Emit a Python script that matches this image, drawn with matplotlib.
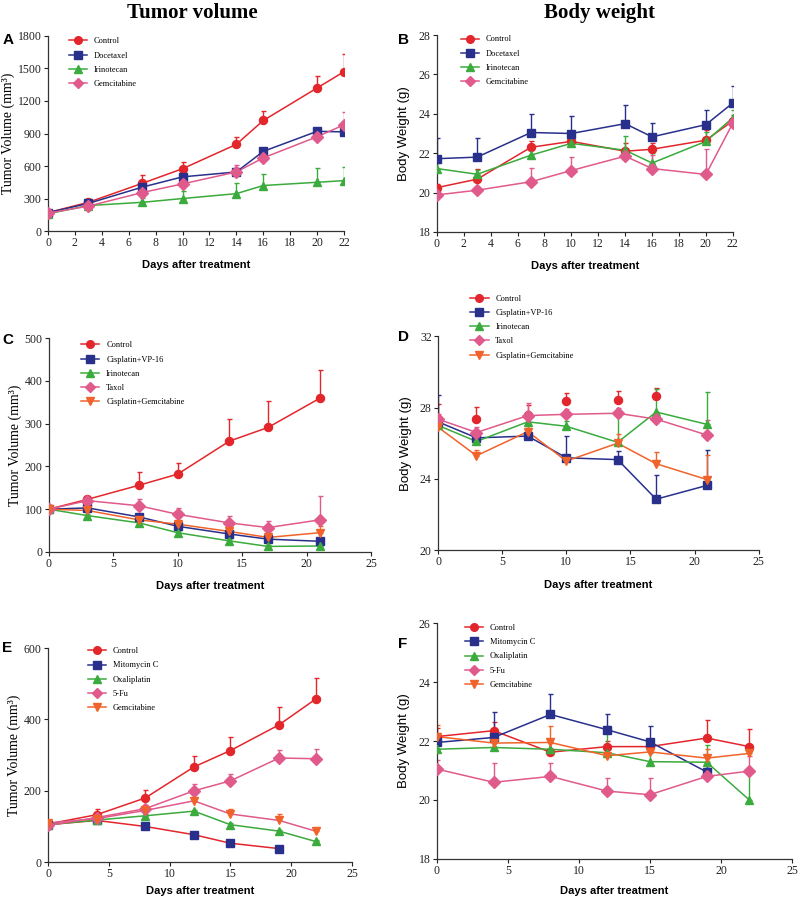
import matplotlib
matplotlib.use("Agg")
import matplotlib.pyplot as plt
from matplotlib.lines import Line2D

plt.rcParams['font.family'] = ['Liberation Serif', 'DejaVu Serif']

RED = '#e3262b'
NAVY = '#28308c'
GREEN = '#3aab3c'
PINK = '#e05a8b'
ORANGE = '#f0632a'

# ---------------- Panel A : tumor volume ----------------
days_a = [0, 3, 7, 10, 14, 16, 20, 22]
a_control = [170, 265, 440, 575, 800, 1020, 1320, 1470]
a_control_err = [15, 20, 75, 65, 70, 85, 110, 165]
a_docetaxel = [170, 255, 405, 500, 545, 735, 920, 915]
a_docetaxel_err = [10, 20, 30, 20, 30, 20, 30, 0]
a_irinotecan = [160, 235, 265, 300, 345, 420, 450, 465]
a_irinotecan_err = [10, 65, 40, 70, 95, 110, 130, 125]
a_gemcitabine = [165, 230, 355, 435, 545, 675, 870, 980]
a_gemcitabine_err = [10, 15, 40, 35, 60, 30, 30, 115]

# ---------------- Panel B : body weight ----------------
days_b = [0, 3, 7, 10, 14, 16, 20, 22]
b_control = [20.25, 20.68, 22.3, 22.6, 22.1, 22.2, 22.66, 23.64]
b_control_err = [0.2, 0.5, 0.3, 0.3, 0.4, 0.3, 0.5, 0.3]
b_docetaxel = [21.72, 21.8, 23.05, 23.0, 23.5, 22.83, 23.45, 24.55]
b_docetaxel_err = [1.05, 0.95, 0.95, 0.88, 0.95, 0.7, 0.75, 0.85]
b_irinotecan = [21.22, 20.93, 21.9, 22.5, 22.15, 21.5, 22.6, 23.8]
b_irinotecan_err = [0.3, 0.2, 0.3, 0.3, 0.7, 0.5, 0.5, 0.4]
b_gemcitabine = [19.88, 20.12, 20.55, 21.12, 21.85, 21.22, 20.92, 23.52]
b_gemcitabine_err = [0.1, 0.5, 0.7, 0.7, 0.1, 0.7, 1.3, 0.3]

# ---------------- Panel C : tumor volume ----------------
days_c = [0, 3, 7, 10, 14, 17, 21]
c_control = [100, 123, 156, 182, 259, 291, 359]
c_control_err = [0, 5, 30, 27, 51, 61, 67]
c_cis_vp16 = [100, 103, 82, 60, 42, 30, 25]
c_cis_vp16_err = [0, 5, 5, 5, 5, 5, 5]
c_irinotecan = [100, 85, 68, 45, 26, 13, 14]
c_irinotecan_err = [0, 4, 4, 4, 4, 3, 3]
c_taxol = [100, 120, 108, 88, 68, 57, 75]
c_taxol_err = [0, 5, 15, 15, 15, 15, 55]
c_cis_gem = [100, 97, 75, 65, 48, 34, 45]
c_cis_gem_err = [0, 4, 6, 5, 6, 5, 15]

# ---------------- Panel D : body weight ----------------
days_d = [0, 3, 7, 10, 14, 17, 21]
d_control = [27.3, 27.35, 27.57, 28.39, 28.4, 28.67]
d_control_err = [0.9, 0.7, 0.6, 0.45, 0.55, 0.4]
d_cis_vp16 = [27.2, 26.3, 26.4, 25.18, 25.08, 22.86, 23.64]
d_cis_vp16_err = [1.5, 0.3, 0.3, 1.2, 0.5, 1.35, 2.0]
d_irinotecan = [27.0, 26.1, 27.2, 26.95, 26.05, 27.75, 27.05]
d_irinotecan_err = [0.5, 0.3, 0.4, 0.3, 1.4, 1.3, 1.8]
d_taxol = [27.35, 26.6, 27.55, 27.62, 27.68, 27.35, 26.45]
d_taxol_err = [0.3, 0.3, 0.7, 0.3, 0.3, 0.3, 0.85]
d_cis_gem = [26.9, 25.3, 26.65, 25.0, 26.0, 24.85, 23.95]
d_cis_gem_err = [0.3, 0.3, 0.3, 0.3, 0.5, 0.65, 1.4]

# ---------------- Panel E : tumor volume ----------------
days_e = [0, 4, 8, 12, 15, 19, 22]
e_control = [107, 133, 180, 267, 313, 385, 457]
e_control_err = [5, 15, 22, 30, 38, 50, 58]
e_mitomycin = [105, 117, 100, 77, 53, 38]
e_mitomycin_err = [3, 3, 3, 3, 3, 3]
e_oxaliplatin = [105, 118, 130, 143, 105, 87, 58]
e_oxaliplatin_err = [3, 4, 4, 4, 4, 4, 4]
e_5fu = [103, 125, 150, 200, 228, 292, 290]
e_5fu_err = [3, 5, 10, 20, 20, 22, 28]
e_gemcitabine = [110, 122, 145, 172, 135, 117, 87]
e_gemcitabine_err = [4, 5, 6, 6, 15, 18, 5]

# ---------------- Panel F : body weight ----------------
days_f = [0, 4, 8, 12, 15, 19, 22]
f_control = [22.15, 22.35, 21.62, 21.81, 21.81, 22.1, 21.81]
f_control_err = [0.3, 0.3, 0.3, 0.2, 0.2, 0.6, 0.6]
f_mitomycin = [21.95, 22.12, 22.9, 22.38, 21.97, 20.95]
f_mitomycin_err = [0.3, 0.85, 0.7, 0.55, 0.55, 0.2]
f_oxaliplatin = [21.72, 21.78, 21.72, 21.6, 21.3, 21.28, 20.0]
f_oxaliplatin_err = [0.4, 0.3, 0.3, 0.9, 0.3, 0.6, 1.0]
f_5fu = [21.05, 20.6, 20.8, 20.3, 20.18, 20.8, 20.98]
f_5fu_err = [0.3, 0.65, 0.45, 0.45, 0.55, 0.3, 0.5]
f_gemcitabine = [22.15, 21.93, 21.95, 21.5, 21.63, 21.42, 21.58]
f_gemcitabine_err = [0.4, 0.3, 0.55, 0.3, 0.3, 0.3, 0.3]


def draw_panel(ax, days, series, legend_anchor, xpad=8):
    handles = []
    for label, vals, errs, color, marker, line_color, show_line in series:
        x = days[:len(vals)]
        ax.errorbar(x, vals, yerr=[[0] * len(errs), errs], fmt='none',
                    ecolor=color, elinewidth=1.0, capsize=1.8, capthick=1.0, zorder=2)
        ax.plot(x, vals, color=line_color, lw=1.1,
                linestyle='-' if show_line else 'none', zorder=3)
        ax.plot(x, vals, linestyle='none', marker=marker, ms=5.8,
                color=color, markeredgecolor=color, zorder=4)
        handles.append(Line2D([], [], color=color, marker=marker, ms=5.5, lw=1.1))
    labels = [s[0] for s in series]
    ax.legend(handles, labels, loc='upper left', bbox_to_anchor=legend_anchor,
              frameon=False, fontsize=6, labelspacing=0.75, handlelength=2.2,
              handletextpad=0.8, borderaxespad=0)
    for side in ['top', 'right']:
        ax.spines[side].set_visible(False)
    for side in ['left', 'bottom']:
        ax.spines[side].set_color('#333333')
        ax.spines[side].set_linewidth(0.9)
    ax.tick_params(direction='out', length=3, width=0.8, labelsize=8.5,
                   colors='#222222', pad=1.5)
    ax.set_xlabel('Days after treatment', family='Liberation Sans',
                  weight='bold', fontsize=8, labelpad=xpad)


fig = plt.figure(figsize=(8, 8.99), dpi=100)

# Tumor volume panels
ax_a = fig.add_axes([0.060, 0.743, 0.370, 0.217])
draw_panel(ax_a, days_a, [
    ('Control', a_control, a_control_err, RED, 'o', RED, True),
    ('Docetaxel', a_docetaxel, a_docetaxel_err, NAVY, 's', NAVY, True),
    ('Irinotecan', a_irinotecan, a_irinotecan_err, GREEN, '^', GREEN, True),
    ('Gemcitabine', a_gemcitabine, a_gemcitabine_err, PINK, 'D', PINK, True),
], (0.06, 1.01))
ax_a.set_xlim(0, 22)
ax_a.set_ylim(0, 1800)
ax_a.set_xticks(range(0, 23, 2))
ax_a.set_yticks(range(0, 1801, 300))
ax_a.set_ylabel('Tumor Volume (mm³)', fontsize=10, labelpad=2)

ax_b = fig.add_axes([0.546, 0.742, 0.370, 0.219])
draw_panel(ax_b, days_b, [
    ('Control', b_control, b_control_err, RED, 'o', RED, True),
    ('Docetaxel', b_docetaxel, b_docetaxel_err, NAVY, 's', NAVY, True),
    ('Irinotecan', b_irinotecan, b_irinotecan_err, GREEN, '^', GREEN, True),
    ('Gemcitabine', b_gemcitabine, b_gemcitabine_err, PINK, 'D', PINK, True),
], (0.07, 1.015))
ax_b.set_xlim(0, 22)
ax_b.set_ylim(18, 28)
ax_b.set_xticks(range(0, 23, 2))
ax_b.set_yticks(range(18, 29, 2))
ax_b.set_ylabel('Body Weight (g)', family='Liberation Sans', fontsize=9.5, labelpad=6)

ax_c = fig.add_axes([0.061, 0.386, 0.403, 0.238])
draw_panel(ax_c, days_c, [
    ('Control', c_control, c_control_err, RED, 'o', RED, True),
    ('Cisplatin+VP-16', c_cis_vp16, c_cis_vp16_err, NAVY, 's', NAVY, True),
    ('Irinotecan', c_irinotecan, c_irinotecan_err, GREEN, '^', GREEN, True),
    ('Taxol', c_taxol, c_taxol_err, PINK, 'D', PINK, True),
    ('Cisplatin+Gemcitabine', c_cis_gem, c_cis_gem_err, ORANGE, 'v', ORANGE, True),
], (0.09, 1.0))
ax_c.set_xlim(0, 25)
ax_c.set_ylim(0, 500)
ax_c.set_xticks(range(0, 26, 5))
ax_c.set_yticks(range(0, 501, 100))
ax_c.set_ylabel('Tumor Volume (mm³)', fontsize=10, labelpad=2)

ax_d = fig.add_axes([0.5475, 0.388, 0.401, 0.238])
draw_panel(ax_d, days_d, [
    ('Control', d_control, d_control_err, RED, 'o', RED, False),
    ('Cisplatin+VP-16', d_cis_vp16, d_cis_vp16_err, NAVY, 's', NAVY, True),
    ('Irinotecan', d_irinotecan, d_irinotecan_err, GREEN, '^', GREEN, True),
    ('Taxol', d_taxol, d_taxol_err, PINK, 'D', PINK, True),
    ('Cisplatin+Gemcitabine', d_cis_gem, d_cis_gem_err, ORANGE, 'v', ORANGE, True),
], (0.09, 1.21))
ax_d.set_xlim(0, 25)
ax_d.set_ylim(20, 32)
ax_d.set_xticks(range(0, 26, 5))
ax_d.set_yticks(range(20, 33, 4))
ax_d.set_ylabel('Body Weight (g)', family='Liberation Sans', fontsize=9.5, labelpad=6)

ax_e = fig.add_axes([0.060, 0.041, 0.380, 0.238])
draw_panel(ax_e, days_e, [
    ('Control', e_control, e_control_err, RED, 'o', RED, True),
    ('Mitomycin C', e_mitomycin, e_mitomycin_err, NAVY, 's', RED, True),
    ('Oxaliplatin', e_oxaliplatin, e_oxaliplatin_err, GREEN, '^', GREEN, True),
    ('5-Fu', e_5fu, e_5fu_err, PINK, 'D', PINK, True),
    ('Gemcitabine', e_gemcitabine, e_gemcitabine_err, ORANGE, 'v', PINK, True),
], (0.12, 1.02), xpad=4)
ax_e.set_xlim(0, 25)
ax_e.set_ylim(0, 600)
ax_e.set_xticks(range(0, 26, 5))
ax_e.set_yticks(range(0, 601, 200))
ax_e.set_ylabel('Tumor Volume (mm³)', fontsize=10, labelpad=2)

ax_f = fig.add_axes([0.546, 0.0445, 0.444, 0.2625])
draw_panel(ax_f, days_f, [
    ('Control', f_control, f_control_err, RED, 'o', RED, True),
    ('Mitomycin C', f_mitomycin, f_mitomycin_err, NAVY, 's', NAVY, True),
    ('Oxaliplatin', f_oxaliplatin, f_oxaliplatin_err, GREEN, '^', GREEN, True),
    ('5-Fu', f_5fu, f_5fu_err, PINK, 'D', PINK, True),
    ('Gemcitabine', f_gemcitabine, f_gemcitabine_err, ORANGE, 'v', ORANGE, True),
], (0.07, 1.01), xpad=6)
ax_f.set_xlim(0, 25)
ax_f.set_ylim(18, 26)
ax_f.set_xticks(range(0, 26, 5))
ax_f.set_yticks(range(18, 27, 2))
ax_f.set_ylabel('Body Weight (g)', family='Liberation Sans', fontsize=9.5, labelpad=6)

# column titles and panel letters
fig.text(0.24, 0.986, 'Tumor volume', ha='center', va='center',
         fontsize=15, weight='bold')
fig.text(0.75, 0.986, 'Body weight', ha='center', va='center',
         fontsize=15, weight='bold')
for letter, x, y in [('A', 0.003, 0.955), ('B', 0.498, 0.955), ('C', 0.003, 0.622),
                     ('D', 0.498, 0.625), ('E', 0.003, 0.279), ('F', 0.498, 0.284)]:
    fig.text(x, y, letter, ha='left', va='center', family='Liberation Sans',
             weight='bold', fontsize=11)

fig.savefig('out.png', dpi=100)
